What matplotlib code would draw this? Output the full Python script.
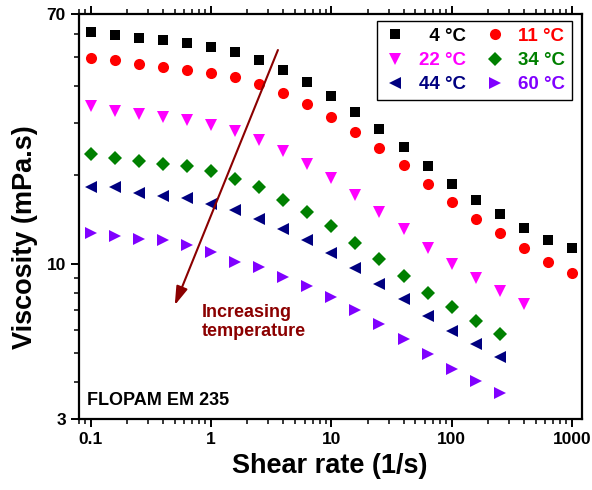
import numpy as np
import matplotlib
matplotlib.use('Agg')
import matplotlib.pyplot as plt
from matplotlib.ticker import FixedLocator, NullFormatter

plt.rcParams['font.family'] = ['Liberation Sans', 'DejaVu Sans']
plt.rcParams['font.weight'] = 'bold'

shear = [0.1, 0.158, 0.251, 0.398, 0.631, 1.0, 1.58, 2.51, 3.98, 6.31, 10.0,
         15.8, 25.1, 39.8, 63.1, 100.0, 158.0, 251.0, 398.0, 631.0, 1000.0]

visc_4 = [60.7, 59.6, 57.9, 57.0, 56.0, 54.2, 52.1, 48.9, 45.3, 41.2, 37.0,
          32.7, 28.6, 24.9, 21.5, 18.7, 16.5, 14.8, 13.3, 12.1, 11.35]
visc_11 = [49.7, 48.8, 47.3, 46.2, 45.4, 44.3, 42.8, 40.5, 37.9, 34.7, 31.5,
           28.0, 24.7, 21.6, 18.7, 16.2, 14.2, 12.7, 11.35, 10.2, 9.37]
visc_22 = [34.1, 33.0, 32.2, 31.5, 30.7, 29.6, 28.2, 26.3, 24.1, 21.8, 19.5,
           17.1, 14.96, 13.1, 11.35, 10.05, 8.99, 8.10, 7.31]
visc_34 = [23.5, 22.9, 22.3, 21.8, 21.4, 20.6, 19.4, 18.2, 16.5, 15.0, 13.5,
           11.8, 10.4, 9.09, 8.02, 7.17, 6.43, 5.80]
visc_44 = [18.2, 18.3, 17.4, 17.0, 16.7, 16.0, 15.2, 14.2, 13.2, 12.1, 10.9,
           9.7, 8.6, 7.6, 6.67, 5.95, 5.36, 4.86]
visc_60 = [12.76, 12.5, 12.2, 12.1, 11.6, 10.98, 10.2, 9.79, 9.06, 8.45, 7.72,
           7.03, 6.27, 5.61, 4.96, 4.44, 4.02, 3.67]

labels = ['\u20074 °C', '11 °C', '22 °C', '34 °C', '44 °C', '60 °C']
series = [visc_4, visc_11, visc_22, visc_34, visc_44, visc_60]
colors = ['black', '#ff0000', '#ff00ff', '#008000', '#000080', '#8000ff']
markers = ['s', 'o', 'v', 'D', '<', '>']
sizes = [7, 8, 8.5, 7, 8.5, 8.5]

fig = plt.figure(figsize=(5.92, 4.9), dpi=100)
ax = fig.add_axes([0.1334, 0.1449, 0.8489, 0.8265])

handles = []
for y, c, m, s, lab in zip(series, colors, markers, sizes, labels):
    h, = ax.plot(shear[:len(y)], y, ls='none', marker=m, color=c,
                 markersize=s, markeredgewidth=0, label=lab)
    handles.append(h)

ax.set_xscale('log')
ax.set_yscale('log')
ax.set_xlim(0.08, 1200)
ax.set_ylim(3, 70)

ax.yaxis.set_major_locator(FixedLocator([3, 10, 70]))
ax.yaxis.set_minor_locator(FixedLocator([4, 5, 6, 7, 8, 9, 20, 30, 40, 50, 60]))
ax.yaxis.set_minor_formatter(NullFormatter())
ax.set_yticklabels(['3', '10', '70'])
ax.set_xticks([0.1, 1, 10, 100, 1000])
ax.set_xticklabels(['0.1', '1', '10', '100', '1000'])

for sp in ax.spines.values():
    sp.set_linewidth(1.6)
ax.tick_params(which='major', direction='out', length=6, width=1.4,
               labelsize=12.5)
ax.tick_params(which='minor', direction='out', length=3.5, width=1.1)
ax.tick_params(axis='x', which='both', top=True, labeltop=False)
for t in ax.get_xticklabels() + ax.get_yticklabels():
    t.set_fontweight('bold')

ax.set_xlabel('Shear rate (1/s)', fontsize=19.5, fontweight='bold', labelpad=4)
ax.set_ylabel('Viscosity (mPa.s)', fontsize=19.5, fontweight='bold')
ax.yaxis.set_label_coords(-0.082, 0.45)

order = [0, 2, 4, 1, 3, 5]
leg = ax.legend([handles[i] for i in order], [labels[i] for i in order],
                ncol=2, loc='upper right', bbox_to_anchor=(0.981, 0.982),
                borderaxespad=0, fancybox=False, edgecolor='black',
                framealpha=1, prop={'size': 13.5, 'weight': 'bold'},
                handletextpad=0.6, columnspacing=0.9, labelspacing=0.38,
                handlelength=1.3, borderpad=0.35)
leg.get_frame().set_linewidth(1.0)
for t, i in zip(leg.get_texts(), order):
    t.set_color(colors[i])

ax.annotate('', xy=(0.5, 7.27), xytext=(3.6, 52.9),
            arrowprops=dict(arrowstyle='-|>,head_length=0.8,head_width=0.25',
                            color='#8b0000', lw=1.5, mutation_scale=14,
                            shrinkA=0, shrinkB=0))
ax.text(0.84, 6.37, 'Increasing\ntemperature', color='#8b0000', fontsize=13,
        fontweight='bold', ha='left', va='center', linespacing=1.2)
ax.text(0.0933, 3.47, 'FLOPAM EM 235', color='black', fontsize=13,
        fontweight='bold', ha='left', va='center')

fig.savefig('out.png', dpi=100)
